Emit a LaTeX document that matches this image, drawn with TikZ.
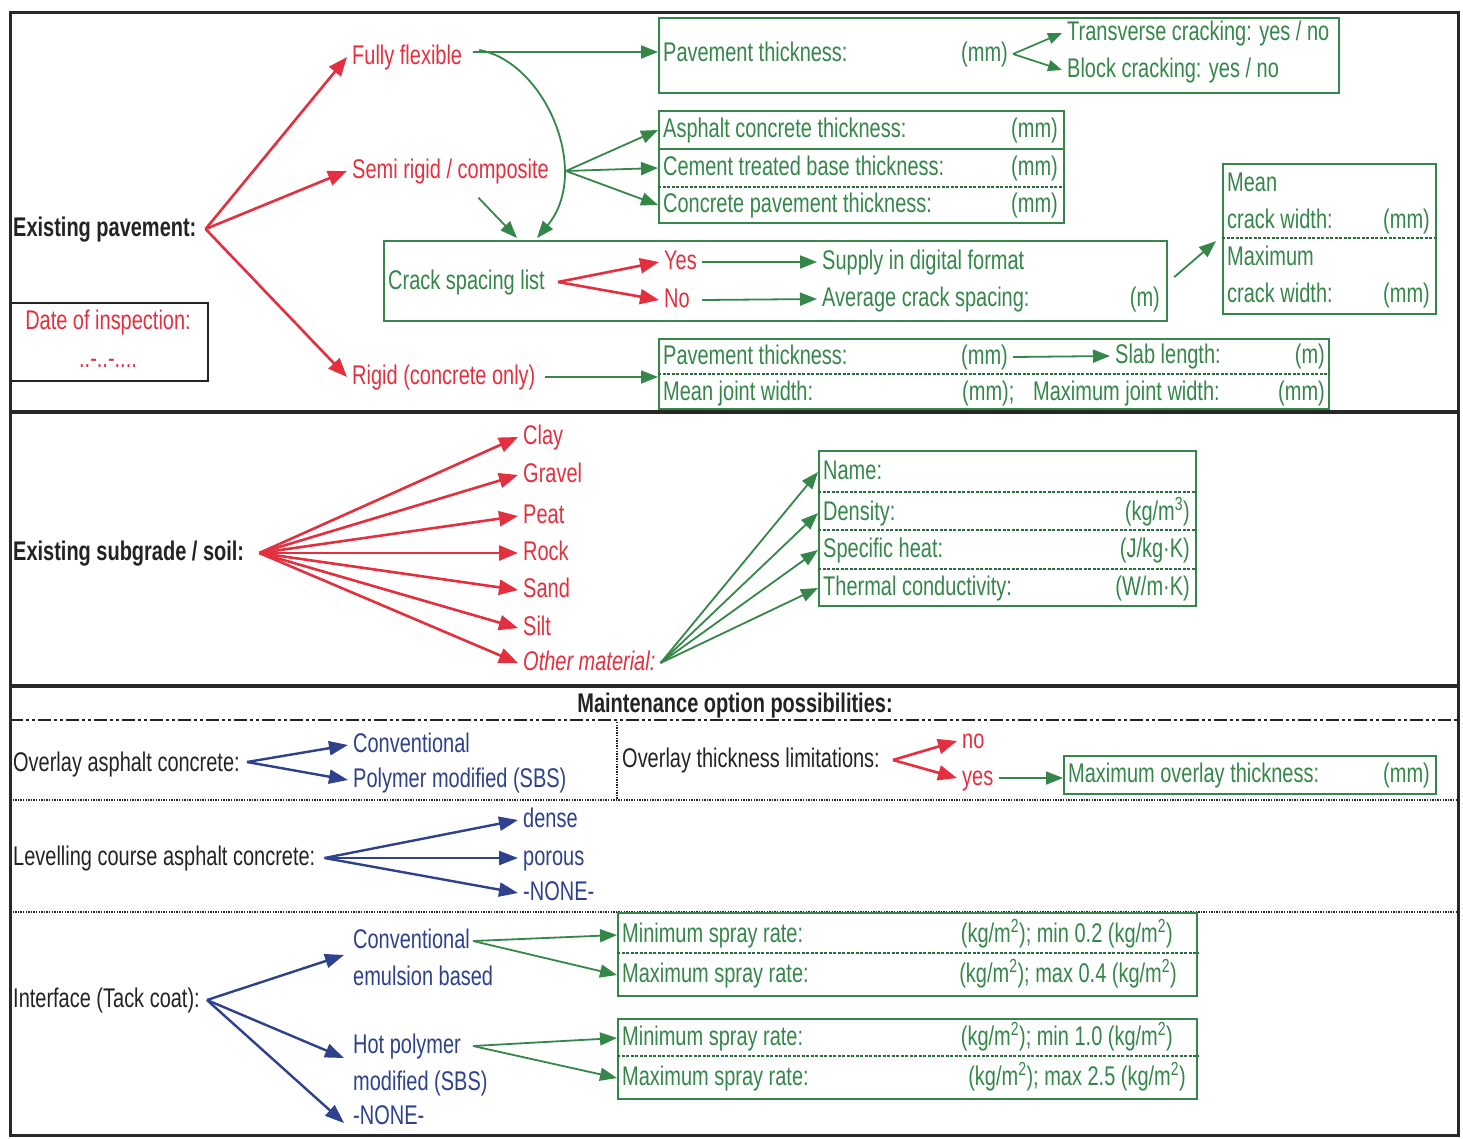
\documentclass[tikz,border=0pt]{standalone}
\usepackage{fontspec}
\setmainfont{Liberation Sans}[FakeStretch=0.74]
\usetikzlibrary{arrows.meta,calc}
\definecolor{cred}{RGB}{228,48,62}
\definecolor{cgreen}{RGB}{52,135,72}
\definecolor{cblue}{RGB}{45,65,140}
\definecolor{cframe}{RGB}{40,40,40}
\definecolor{ctext}{RGB}{35,35,35}
\begin{document}
\begin{tikzpicture}[x=1pt,y=-1pt,
  every node/.style={font=\fontsize{27}{30}\selectfont, inner xsep=5pt, inner ysep=0pt, text height=19.5pt, text depth=5.5pt},
  rt/.style={text=cred},
  gt/.style={text=cgreen},
  bt/.style={text=cblue},
  kt/.style={text=ctext},
  kb/.style={text=ctext, font=\fontsize{27}{30}\selectfont\bfseries},
  ra/.style={draw=cred, line width=2.6pt, -{Triangle[length=19pt,width=15pt]}},
  ga/.style={draw=cgreen, line width=1.8pt, -{Triangle[length=17pt,width=13pt]}},
  gas/.style={draw=cgreen, line width=1.7pt, -{Triangle[length=14pt,width=11pt]}},
  ba/.style={draw=cblue, line width=2.4pt, -{Triangle[length=19pt,width=14pt]}},
  gbox/.style={draw=cgreen, line width=2.2pt, anchor=north west},
  gdash/.style={draw=cgreen!80!black, line width=1.5pt, dash pattern=on 3pt off 1.5pt},
  kdot/.style={draw=ctext, line width=1.4pt, dash pattern=on 1.4pt off 1.2pt},
  sepline/.style={draw=cframe, line width=4pt}
]
\useasboundingbox (0,0) rectangle (1463,1138);
\fill[white] (0,0) rectangle (1463,1138);

% ===================== Section 1: existing pavement =====================
\node[kb, anchor=west] (exp) at (8,229) {Existing pavement:};
\node[draw=ctext, line width=2.2pt, minimum width=197pt, minimum height=78pt, anchor=north west] (dbox) at (10,302) {};
\node[rt] (doi) at (108,322) {Date of inspection:};
\node[rt] (dots) at (108,360) {..-..-....};

\node[rt, anchor=west] (ff) at (347,57) {Fully flexible};
\node[rt, anchor=west] (semi) at (347,171) {Semi rigid / composite};
\node[rt, anchor=west] (rig) at (347,377) {Rigid (concrete only)};
\coordinate (expo) at ($(exp.east)+(4,0)$);
\draw[ra] (expo) -- (ff.west);
\draw[ra] (expo) -- (semi.west);
\draw[ra] (expo) -- (rig.west);

% box 1
\node[gbox, minimum width=680pt, minimum height=75pt] (b1) at (658,17) {};
\node[gt, anchor=west] (b1pt) at (658,54) {Pavement thickness:};
\node[gt, anchor=east] (b1mm) at (1013,54) {(mm)};
\node[gt, anchor=west] (tc) at (1062,33) {Transverse cracking: yes / no};
\node[gt, anchor=west] (bc) at (1062,70) {Block cracking: yes / no};
\draw[gas] (b1mm.east) -- (tc.west);
\draw[gas] (b1mm.east) -- (bc.west);
\draw[ga] ($(ff.east)+(6,-5)$) -- ($(ff.east -| b1.west)+(0,-5)$);

% box 2
\node[gbox, minimum width=405pt, minimum height=112pt] (b2) at (658,110) {};
\draw[draw=cgreen, line width=1.8pt] (b2.north west |- 0,149) -- (b2.north east |- 0,149);
\draw[gdash] (b2.north west |- 0,187) -- (b2.north east |- 0,187);
\node[gt, anchor=west] (ac) at (658,130) {Asphalt concrete thickness:};
\node[gt, anchor=east] (acmm) at (1063,130) {(mm)};
\node[gt, anchor=west] (ctb) at (658,168) {Cement treated base thickness:};
\node[gt, anchor=east] (ctbmm) at (1063,168) {(mm)};
\node[gt, anchor=west] (cpt) at (658,205) {Concrete pavement thickness:};
\node[gt, anchor=east] (cptmm) at (1063,205) {(mm)};
\coordinate (semio) at ($(semi.east)+(12,0)$);
\draw[ga] (semio) -- (ac.west);
\draw[ga] (semio) -- (ctb.west);
\draw[ga] (semio) -- (cpt.west);

% crack spacing box
\node[gbox, minimum width=783pt, minimum height=80pt] (cb) at (383,240) {};
\coordinate (ct1) at (517,238);
\coordinate (ct2) at (537,238);
\draw[ga] ($(semi.south)+(28,14)$) -- (ct1);
\draw[ga] ($(ff.east)+(12,-7)$) .. controls (545,62) and (592,172) .. (ct2);
\node[gt, anchor=west] (csl) at (383,282) {Crack spacing list};
\node[rt, anchor=west] (yes) at (659,262) {Yes};
\node[rt, anchor=west] (no) at (659,300) {No};
\coordinate (cslo) at ($(csl.east)+(8,0)$);
\draw[ra] (cslo) -- (yes.west);
\draw[ra] (cslo) -- (no.west);
\node[gt, anchor=west] (sdf) at (817,262) {Supply in digital format};
\node[gt, anchor=west] (acs) at (817,299) {Average crack spacing:};
\node[gt, anchor=east] (acsm) at (1165,299) {(m)};
\draw[ga] (yes.east) -- (sdf.west);
\draw[ga] (yes.east |- no.east) -- (acs.west);

% mean / max crack width box
\node[gbox, minimum width=213pt, minimum height=150pt] (mb) at (1222,163) {};
\draw[gdash] (mb.north west |- 0,238) -- (mb.north east |- 0,238);
\node[gt, anchor=west] (mean) at (1222,184) {Mean};
\node[gt, anchor=west] (mcw) at (1222,221) {crack width:};
\node[gt, anchor=east] (mcwmm) at (1435,221) {(mm)};
\node[gt, anchor=west] (maxi) at (1222,258) {Maximum};
\node[gt, anchor=west] (xcw) at (1222,295) {crack width:};
\node[gt, anchor=east] (xcwmm) at (1435,295) {(mm)};
\draw[ga] ($(cb.east)+(6,-4)$) -- ($(mb.west)+(-6,2)$);

% rigid box
\node[gbox, minimum width=670pt, minimum height=70pt] (rb) at (658,338) {};
\draw[gdash] (rb.north west |- 0,374) -- (rb.north east |- 0,374);
\node[gt, anchor=west] (rpt) at (658,357) {Pavement thickness:};
\node[gt, anchor=east] (rptmm) at (1013,357) {(mm)};
\node[gt, anchor=west] (slab) at (1110,356) {Slab length:};
\node[gt, anchor=east] (slabm) at (1330,356) {(m)};
\draw[ga] (rptmm.east) -- (slab.west);
\node[gt, anchor=west] (mjw) at (658,393) {Mean joint width:};
\node[gt, anchor=west] (mjwmm) at (957,393) {(mm);};
\node[gt, anchor=west] (xjw) at (1028,393) {Maximum joint width:};
\node[gt, anchor=east] (xjwmm) at (1330,393) {(mm)};
\draw[ga] ($(rig.east)+(4,0)$) -- (rig.east -| rb.west);

% ===================== Section 2: subgrade =====================
\node[kb, anchor=west] (sub) at (8,553) {Existing subgrade / soil:};
\coordinate (subo) at ($(sub.east)+(10,0)$);
\node[rt, anchor=west] (clay) at (518,437) {Clay};
\node[rt, anchor=west] (grav) at (518,475) {Gravel};
\node[rt, anchor=west] (peat) at (518,516) {Peat};
\node[rt, anchor=west] (rock) at (518,553) {Rock};
\node[rt, anchor=west] (sand) at (518,590) {Sand};
\node[rt, anchor=west] (silt) at (518,628) {Silt};
\node[rt, anchor=west] (oth) at (518,663) {\itshape Other material:};
\foreach \s in {clay,grav,peat,rock,sand,silt,oth} \draw[ra] (subo) -- (\s.west);

\node[gbox, minimum width=377pt, minimum height=155pt] (mat) at (818,450) {};
\draw[gdash] (mat.north west |- 0,492) -- (mat.north east |- 0,492);
\draw[gdash] (mat.north west |- 0,530) -- (mat.north east |- 0,530);
\draw[gdash] (mat.north west |- 0,569) -- (mat.north east |- 0,569);
\node[gt, anchor=west] (mname) at (818,472) {Name:};
\node[gt, anchor=west] (mden) at (818,513) {Density:};
\node[gt, anchor=east] (mdenu) at (1195,513) {(kg/m\textsuperscript{3})};
\node[gt, anchor=west] (msh) at (818,550) {Specific heat:};
\node[gt, anchor=east] (mshu) at (1195,550) {(J/kg·K)};
\node[gt, anchor=west] (mtc) at (818,588) {Thermal conductivity:};
\node[gt, anchor=east] (mtcu) at (1195,588) {(W/m·K)};
\foreach \s in {mname,mden,msh,mtc} \draw[ga] (oth.east) -- (\s.west);

% ===================== Section 3: maintenance =====================
\node[kb] (mop) at (735,705) {Maintenance option possibilities:};
\draw[draw=ctext, line width=2.6pt, dash pattern=on 13pt off 3pt on 3pt off 3pt on 3pt off 3pt] (10,720) -- (1458,720);
\draw[kdot] (617,722) -- (617,800);
\draw[kdot] (10,800) -- (1458,800);
\draw[kdot] (10,912) -- (1458,912);

\node[kt, anchor=west] (oac) at (8,764) {Overlay asphalt concrete:};
\node[bt, anchor=west] (conv1) at (348,745) {Conventional};
\node[bt, anchor=west] (pm) at (348,780) {Polymer modified (SBS)};
\draw[ba] ($(oac.east)+(2,-2)$) -- (conv1.west);
\draw[ba] ($(oac.east)+(2,-2)$) -- (pm.west);

\node[kt, anchor=west] (otl) at (617,760) {Overlay thickness limitations:};
\node[rt, anchor=west] (ono) at (957,741) {no};
\node[rt, anchor=west] (oyes) at (957,778) {yes};
\coordinate (otlo) at ($(otl.east)+(8,0)$);
\draw[ra] (otlo) -- (ono.west);
\draw[ra] (otlo) -- (oyes.west);
\node[gbox, minimum width=372pt, minimum height=38pt] (mob) at (1063,755) {};
\node[gt, anchor=west] (mot) at (1063,775) {Maximum overlay thickness:};
\node[gt, anchor=east] (motmm) at (1435,775) {(mm)};
\draw[ga] (oyes.east) -- (oyes.east -| mob.west);

\node[kt, anchor=west] (lca) at (8,858) {Levelling course asphalt concrete:};
\node[bt, anchor=west] (dense) at (518,820) {dense};
\node[bt, anchor=west] (porous) at (518,858) {porous};
\node[bt, anchor=west] (none1) at (518,893) {-NONE-};
\coordinate (lcao) at ($(lca.east)+(4,0)$);
\draw[ba] (lcao) -- (dense.west);
\draw[ba] (lcao) -- (porous.west);
\draw[ba] (lcao) -- (none1.west);

\node[kt, anchor=west] (itc) at (8,1000) {Interface (Tack coat):};
\node[bt, anchor=west] (ceb1) at (348,941) {Conventional};
\node[bt, anchor=west] (ceb2) at (348,978) {emulsion based};
\node[bt, anchor=west] (hp1) at (348,1046) {Hot polymer};
\node[bt, anchor=west] (hp2) at (348,1083) {modified (SBS)};
\node[bt, anchor=west] (none2) at (348,1117) {-NONE-};
\coordinate (itco) at ($(itc.east)+(2,0)$);
\draw[ba] (itco) -- ($(ceb1.west)+(-4,14)$);
\draw[ba] (itco) -- ($(hp1.west)+(-4,12)$);
\draw[ba] (itco) -- ($(none2.west)+(-4,6)$);

\node[gbox, minimum width=579pt, minimum height=83pt] (spa) at (617,912) {};
\draw[gdash] (spa.north west |- 0,953) -- (spa.north east |- 0,953);
\node[gt, anchor=west] (sa1) at (617,935) {Minimum spray rate:};
\node[gt, anchor=east] (sa1r) at (1178,935) {(kg/m\textsuperscript{2}); min 0.2 (kg/m\textsuperscript{2})};
\node[gt, anchor=west] (sa2) at (617,975) {Maximum spray rate:};
\node[gt, anchor=east] (sa2r) at (1182,975) {(kg/m\textsuperscript{2}); max 0.4 (kg/m\textsuperscript{2})};
\draw[ga] ($(ceb1.east)+(-2,0)$) -- (sa1.west);
\draw[ga] ($(ceb1.east)+(-2,0)$) -- (sa2.west);

\node[gbox, minimum width=579pt, minimum height=80pt] (spb) at (617,1018) {};
\draw[gdash] (spb.north west |- 0,1056) -- (spb.north east |- 0,1056);
\node[gt, anchor=west] (sb1) at (617,1038) {Minimum spray rate:};
\node[gt, anchor=east] (sb1r) at (1178,1038) {(kg/m\textsuperscript{2}); min 1.0 (kg/m\textsuperscript{2})};
\node[gt, anchor=west] (sb2) at (617,1078) {Maximum spray rate:};
\node[gt, anchor=east] (sb2r) at (1191,1078) {(kg/m\textsuperscript{2}); max 2.5 (kg/m\textsuperscript{2})};
\draw[ga] ($(hp1.east)+(7,0)$) -- (sb1.west);
\draw[ga] ($(hp1.east)+(7,0)$) -- (sb2.west);

% ===================== frame =====================
\draw[sepline] (10,412) -- (1458,412);
\draw[sepline] (10,686) -- (1458,686);
\draw[draw=cframe, line width=3pt] (10,12) rectangle (1458,1135);
\end{tikzpicture}
\end{document}
